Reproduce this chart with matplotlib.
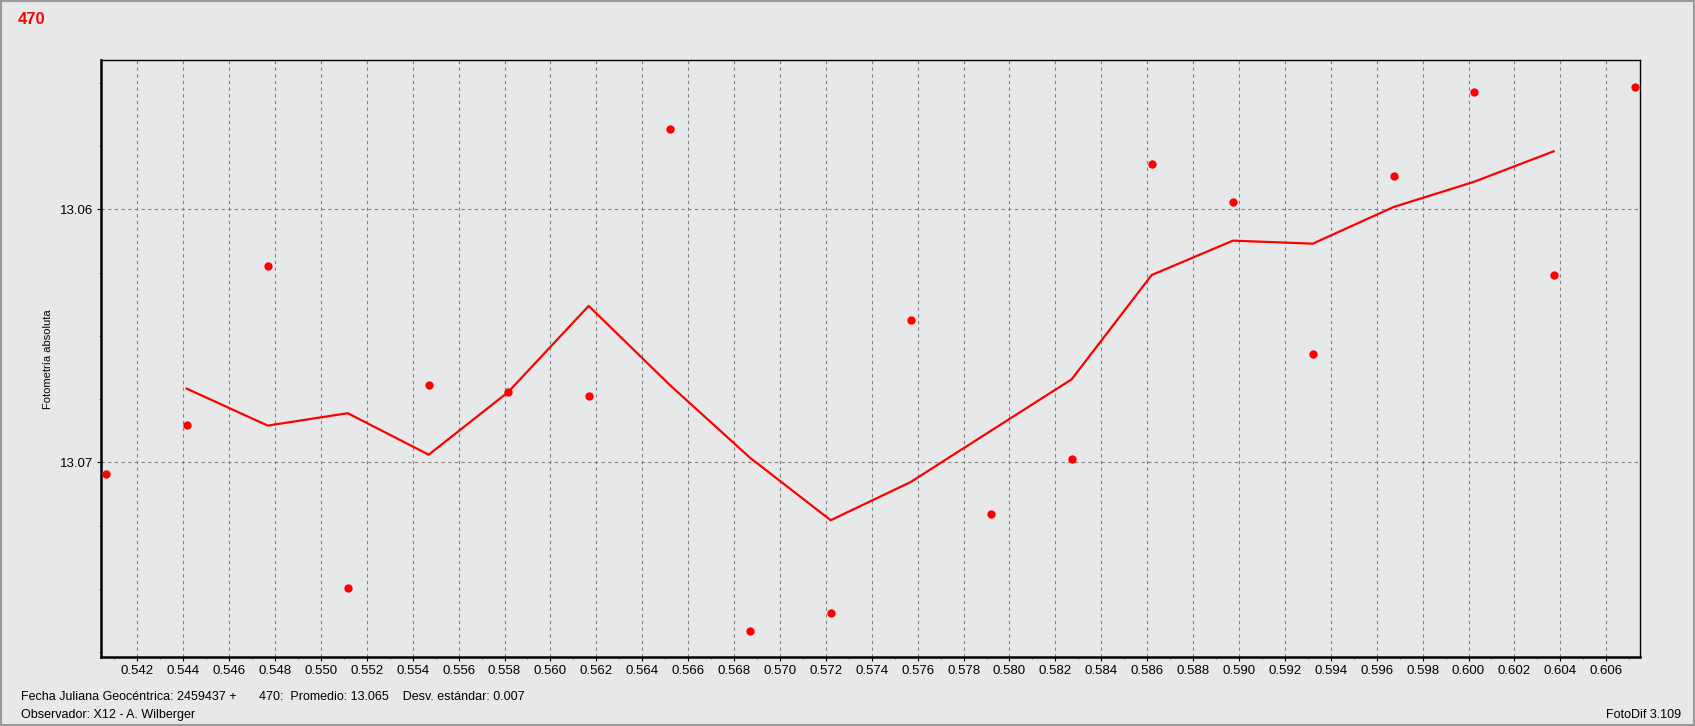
import matplotlib
matplotlib.use('Agg')
import matplotlib.pyplot as plt
from matplotlib.ticker import MultipleLocator, FormatStrFormatter
from matplotlib.patches import Rectangle

# Data (JD - 2459437, absolute magnitude)
jd = [0.540623, 0.544152, 0.547681, 0.551167, 0.554696, 0.558164, 0.561666,
      0.565195, 0.568694, 0.572210, 0.575696, 0.579181, 0.582710, 0.586194,
      0.589738, 0.593209, 0.596738, 0.600224, 0.603709, 0.607238]
mag = [13.07046, 13.06853, 13.06224, 13.07497, 13.06694, 13.06722, 13.06738,
       13.05683, 13.07667, 13.07596, 13.06438, 13.07204, 13.06986, 13.05821,
       13.05971, 13.06572, 13.05868, 13.05536, 13.06260, 13.05517]
# running mean drawn as red line (points 2..19)
mag_mean = [13.06709, 13.06855, 13.06806, 13.06970, 13.06722, 13.06382,
            13.06694, 13.06982, 13.07229, 13.07078, 13.06876, 13.06672,
            13.06260, 13.06124, 13.06136, 13.05991, 13.05892, 13.05771]

STAR = '470'
JD_BASE = '2459437'
AVERAGE = '13.065'
STD_DEV = '0.007'
OBSERVER = 'X12 - A. Wilberger'
PROGRAM = 'FotoDif 3.109'

BG = '#e7e8ea'
RED = '#ff0000'
GRID = '#808080'

plt.rcParams['font.family'] = ['Liberation Sans']


def plot_light_curve():
    fig = plt.figure(figsize=(16.95, 7.26), dpi=100, facecolor=BG)
    ax = fig.add_axes([0.0593, 0.0946, 0.9084, 0.8224], facecolor=BG)

    ax.plot(jd[1:-1], mag_mean, color=RED, linewidth=1.6, zorder=3)
    ax.plot(jd, mag, linestyle='none', marker='o', markersize=6,
            markerfacecolor=RED, markeredgewidth=0, zorder=4)

    ax.set_xlim(0.540397, 0.607482)
    ax.set_ylim(13.077708, 13.054111)  # magnitudes: brighter up

    ax.xaxis.set_major_locator(MultipleLocator(0.002))
    ax.xaxis.set_minor_locator(MultipleLocator(0.001))
    ax.xaxis.set_major_formatter(FormatStrFormatter('%.3f'))
    ax.yaxis.set_major_locator(MultipleLocator(0.01))
    ax.yaxis.set_minor_locator(MultipleLocator(0.0025))
    ax.yaxis.set_major_formatter(FormatStrFormatter('%.2f'))

    ax.tick_params(axis='both', which='major', direction='out', length=3,
                   width=0.8, color='black', labelsize=9.5, pad=2.5)
    ax.tick_params(axis='both', which='minor', direction='out', length=1.5,
                   width=0.6, color='#555555')

    ax.grid(which='major', axis='both', color=GRID, linestyle=(0, (3, 3)),
            linewidth=0.8)
    ax.set_axisbelow(True)

    for side in ['left', 'bottom']:
        ax.spines[side].set_linewidth(1.8)
    for side in ['top', 'right']:
        ax.spines[side].set_linewidth(1.0)

    ax.set_ylabel('Fotometría absoluta', fontsize=8)
    ax.yaxis.set_label_coords(-0.031, 0.5)

    # header and footer texts
    fig.text(18 / 1695, 1 - 19 / 726, STAR, color=RED, fontsize=12,
             fontweight='bold', va='center', ha='left')
    fig.text(21 / 1695, 1 - 697 / 726,
             'Fecha Juliana Geocéntrica: ' + JD_BASE + ' +',
             fontsize=9, va='center', ha='left')
    fig.text(259 / 1695, 1 - 697 / 726,
             STAR + ':  Promedio: ' + AVERAGE + '    Desv. estándar: ' + STD_DEV,
             fontsize=9, va='center', ha='left')
    fig.text(21 / 1695, 1 - 715 / 726, 'Observador: ' + OBSERVER,
             fontsize=9, va='center', ha='left')
    fig.text(1681 / 1695, 1 - 715 / 726, PROGRAM,
             fontsize=9, va='center', ha='right')

    # window frame
    fig.patches.append(Rectangle((0.0005, 0.001), 0.999, 0.998,
                                 transform=fig.transFigure, fill=False,
                                 edgecolor='#9a9a9a', linewidth=1.5))

    fig.savefig('out.png', dpi=100, facecolor=BG)
    plt.close(fig)


if __name__ == '__main__':
    plot_light_curve()
